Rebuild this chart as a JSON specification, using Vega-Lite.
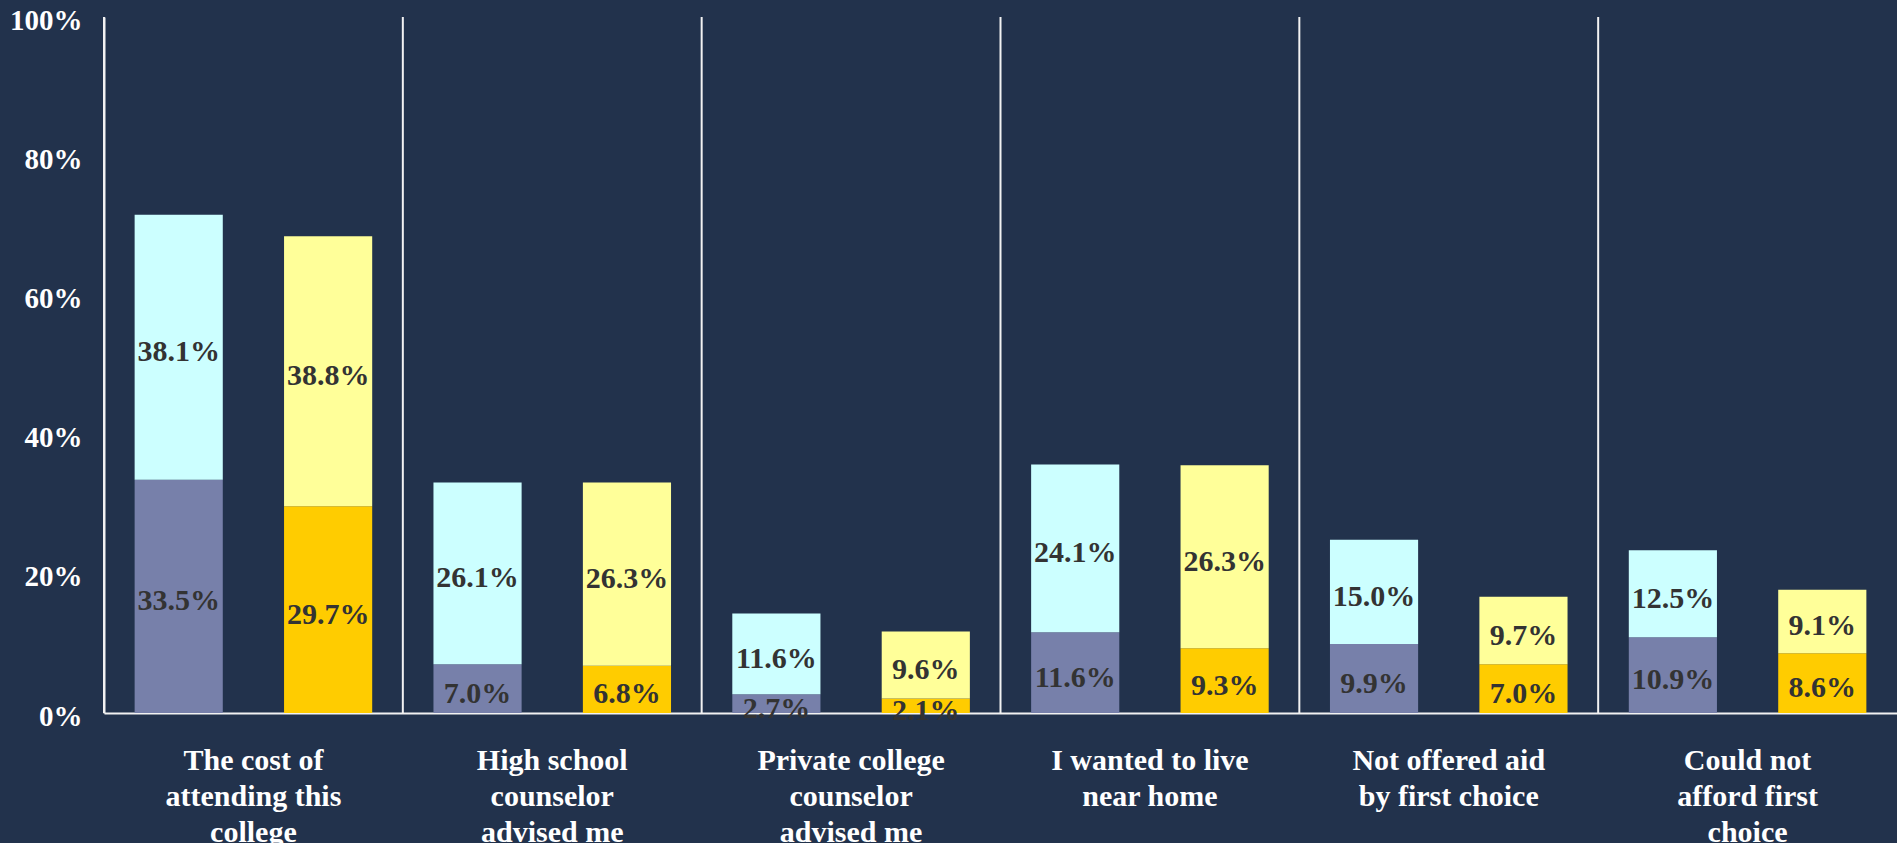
{
  "$schema": "https://vega.github.io/schema/vega-lite/v6.json",
  "autosize": {"type": "none"},
  "padding": {"left": 104, "top": 17, "right": 0, "bottom": 130},
  "width": 1793,
  "height": 696,
  "background": "#22324C",
  "config": {"view": {"stroke": null}, "font": "Liberation Serif"},
  "datasets": {
    "cats": [
      {"category": "The cost of attending this college"},
      {"category": "High school counselor advised me"},
      {"category": "Private college counselor advised me"},
      {"category": "I wanted to live near home"},
      {"category": "Not offered aid by first choice"},
      {"category": "Could not afford first choice"}
    ],
    "main": [
      {"category": "The cost of attending this college", "group": "A", "level": "lower", "key": "A lower", "value": 0.335},
      {"category": "The cost of attending this college", "group": "A", "level": "upper", "key": "A upper", "value": 0.381},
      {"category": "The cost of attending this college", "group": "B", "level": "lower", "key": "B lower", "value": 0.297},
      {"category": "The cost of attending this college", "group": "B", "level": "upper", "key": "B upper", "value": 0.388},
      {"category": "High school counselor advised me", "group": "A", "level": "lower", "key": "A lower", "value": 0.070},
      {"category": "High school counselor advised me", "group": "A", "level": "upper", "key": "A upper", "value": 0.261},
      {"category": "High school counselor advised me", "group": "B", "level": "lower", "key": "B lower", "value": 0.068},
      {"category": "High school counselor advised me", "group": "B", "level": "upper", "key": "B upper", "value": 0.263},
      {"category": "Private college counselor advised me", "group": "A", "level": "lower", "key": "A lower", "value": 0.027},
      {"category": "Private college counselor advised me", "group": "A", "level": "upper", "key": "A upper", "value": 0.116},
      {"category": "Private college counselor advised me", "group": "B", "level": "lower", "key": "B lower", "value": 0.021},
      {"category": "Private college counselor advised me", "group": "B", "level": "upper", "key": "B upper", "value": 0.096},
      {"category": "I wanted to live near home", "group": "A", "level": "lower", "key": "A lower", "value": 0.116},
      {"category": "I wanted to live near home", "group": "A", "level": "upper", "key": "A upper", "value": 0.241},
      {"category": "I wanted to live near home", "group": "B", "level": "lower", "key": "B lower", "value": 0.093},
      {"category": "I wanted to live near home", "group": "B", "level": "upper", "key": "B upper", "value": 0.263},
      {"category": "Not offered aid by first choice", "group": "A", "level": "lower", "key": "A lower", "value": 0.099},
      {"category": "Not offered aid by first choice", "group": "A", "level": "upper", "key": "A upper", "value": 0.150},
      {"category": "Not offered aid by first choice", "group": "B", "level": "lower", "key": "B lower", "value": 0.070},
      {"category": "Not offered aid by first choice", "group": "B", "level": "upper", "key": "B upper", "value": 0.097},
      {"category": "Could not afford first choice", "group": "A", "level": "lower", "key": "A lower", "value": 0.109},
      {"category": "Could not afford first choice", "group": "A", "level": "upper", "key": "A upper", "value": 0.125},
      {"category": "Could not afford first choice", "group": "B", "level": "lower", "key": "B lower", "value": 0.086},
      {"category": "Could not afford first choice", "group": "B", "level": "upper", "key": "B upper", "value": 0.091}
    ]
  },
  "layer": [
    {
      "data": {"name": "cats"},
      "mark": {"type": "rule", "color": "#F2F2F2", "strokeWidth": 2},
      "encoding": {
        "x": {
          "field": "category", "type": "nominal", "bandPosition": 0,
          "sort": ["The cost of attending this college", "High school counselor advised me", "Private college counselor advised me", "I wanted to live near home", "Not offered aid by first choice", "Could not afford first choice"],
          "scale": {"paddingInner": 0, "paddingOuter": 0},
          "axis": {"title": null, "labelAngle": 0, "labelColor": "#FFFFFF", "labelFontSize": 30, "labelFontWeight": "bold", "labelFont": "Liberation Serif", "labelLineHeight": 36, "labelPadding": 47, "labelBaseline": "middle", "ticks": false, "domainColor": "#F2F2F2", "domainWidth": 2, "grid": false, "labelLimit": 0,
            "labelExpr": "{'The cost of attending this college':['The cost of','attending this','college'],'High school counselor advised me':['High school','counselor','advised me'],'Private college counselor advised me':['Private college','counselor','advised me'],'I wanted to live near home':['I wanted to live','near home'],'Not offered aid by first choice':['Not offered aid','by first choice'],'Could not afford first choice':['Could not','afford first','choice']}[datum.label]"}
        }
      }
    },
    {
      "data": {"name": "main"},
      "transform": [
        {"stack": "value", "groupby": ["category", "group"], "sort": [{"field": "level", "order": "ascending"}], "as": ["v0", "v1"]}
      ],
      "mark": {"type": "bar"},
      "encoding": {
        "x": {
          "field": "category", "type": "nominal",
          "sort": ["The cost of attending this college", "High school counselor advised me", "Private college counselor advised me", "I wanted to live near home", "Not offered aid by first choice", "Could not afford first choice"],
          "scale": {"paddingInner": 0, "paddingOuter": 0},
          "axis": {"title": null, "labelAngle": 0, "labelColor": "#FFFFFF", "labelFontSize": 30, "labelFontWeight": "bold", "labelFont": "Liberation Serif", "labelLineHeight": 36, "labelPadding": 47, "labelBaseline": "middle", "ticks": false, "domainColor": "#F2F2F2", "domainWidth": 2, "grid": false, "labelLimit": 0,
            "labelExpr": "{'The cost of attending this college':['The cost of','attending this','college'],'High school counselor advised me':['High school','counselor','advised me'],'Private college counselor advised me':['Private college','counselor','advised me'],'I wanted to live near home':['I wanted to live','near home'],'Not offered aid by first choice':['Not offered aid','by first choice'],'Could not afford first choice':['Could not','afford first','choice']}[datum.label]"}
        },
        "xOffset": {"field": "group", "type": "nominal", "scale": {"paddingInner": 0.41, "paddingOuter": 0.205}},
        "y": {
          "field": "v0", "type": "quantitative",
          "scale": {"domain": [0, 1], "nice": false},
          "axis": {"title": null, "format": ".0%", "values": [0, 0.2, 0.4, 0.6, 0.8, 1], "labelColor": "#FFFFFF", "labelFontSize": 29, "labelFontWeight": "bold", "labelFont": "Liberation Serif", "ticks": false, "labelPadding": 22, "labelOffset": 3, "domainColor": "#F2F2F2", "domainWidth": 2, "grid": false}
        },
        "y2": {"field": "v1"},
        "color": {
          "field": "key", "type": "nominal",
          "scale": {"domain": ["A lower", "A upper", "B lower", "B upper"], "range": ["#7780AA", "#CCFFFF", "#FFCC00", "#FFFF99"]},
          "legend": null
        }
      }
    },
    {
      "data": {"name": "main"},
      "transform": [
        {"stack": "value", "groupby": ["category", "group"], "sort": [{"field": "level", "order": "ascending"}], "as": ["v0", "v1"]},
        {"calculate": "(datum.v0 + datum.v1) / 2", "as": "mid"}
      ],
      "mark": {"type": "text", "fontSize": 30, "fontWeight": "bold", "font": "Liberation Serif", "color": "#333333", "baseline": "middle", "dy": 5},
      "encoding": {
        "x": {
          "field": "category", "type": "nominal",
          "sort": ["The cost of attending this college", "High school counselor advised me", "Private college counselor advised me", "I wanted to live near home", "Not offered aid by first choice", "Could not afford first choice"]
        },
        "xOffset": {"field": "group", "type": "nominal"},
        "y": {"field": "mid", "type": "quantitative"},
        "text": {"field": "value", "type": "quantitative", "format": ".1%"}
      }
    }
  ]
}
